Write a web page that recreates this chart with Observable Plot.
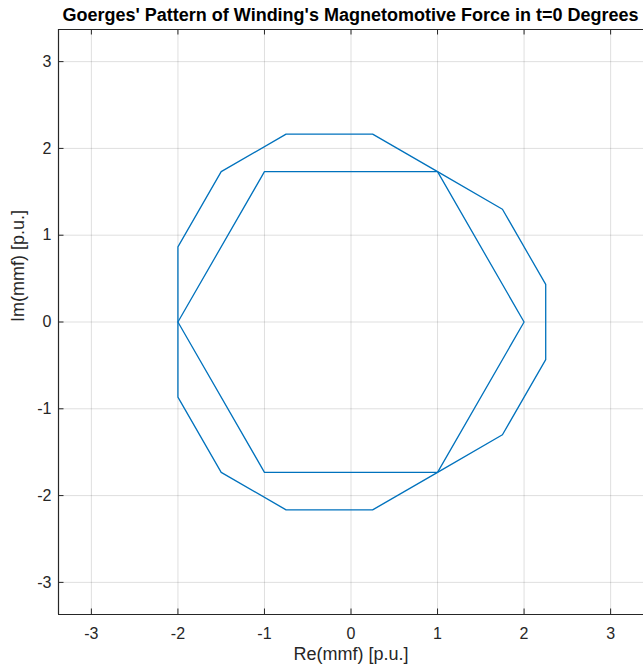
<!DOCTYPE html>
<html>
<head>
<meta charset="utf-8">
<script src="https://cdn.jsdelivr.net/npm/d3@7"></script>
<script src="https://cdn.jsdelivr.net/npm/@observablehq/plot@0.6"></script>
<style>
  html, body { margin: 0; padding: 0; background: #fff; overflow: hidden; width: 643px; height: 671px; }
  #title { position: absolute; left: 58px; top: 0; width: 585px; height: 28px; text-align: center; white-space: nowrap;
           font: bold 18px "Liberation Sans", Arial, sans-serif; color: #000; line-height: 30px; }
  #chart { position: absolute; left: 0; top: 28px; }
</style>
</head>
<body>
<div id="title"></div>
<div id="chart"></div>
<script>
const titleText = "Goerges' Pattern of Winding's Magnetomotive Force in t=0 Degrees";
const xLabel = "Re(mmf) [p.u.]";
const yLabel = "Im(mmf) [p.u.]";
const tickValues = [-3, -2, -1, 0, 1, 2, 3];
const tickLabels = ["-3", "-2", "-1", "0", "1", "2", "3"];

// Inner hexagon (sum of phasors)
const hexRe = [2, 1, -1, -2, -1, 1, 2];
const hexIm = [0, 1.732, 1.732, 0, -1.732, -1.732, 0];
// Outer 12-sided polygon
const outerRe = [2.25, 1.75, 1, 0.25, -0.75, -1.5, -2, -2, -1.5, -0.75, 0.25, 1, 1.75, 2.25, 2.25];
const outerIm = [0.433, 1.299, 1.732, 2.165, 2.165, 1.732, 0.866, -0.866, -1.732, -2.165, -2.165, -1.732, -1.299, -0.433, 0.433];

const xDomain = [-3.38, 3.38];
const yDomain = [-3.37, 3.37];

document.getElementById("title").textContent = titleText;

const hex = hexRe.map((re, i) => ({re, im: hexIm[i], s: "hex"}));
const outer = outerRe.map((re, i) => ({re, im: outerIm[i], s: "outer"}));

const W = 643, H = 643, mL = 58, mR = 0, mT = 1, mB = 57;
const plotH = H - mT - mB;
const plotW = W - mL - mR;
const tickLen = 5.5;
const axisColor = "#262626";
const lineColor = "#0072BD";
const fmt = d => tickLabels[tickValues.indexOf(d)];

const chart = Plot.plot({
  width: W,
  height: H,
  marginLeft: mL,
  marginRight: mR,
  marginTop: mT,
  marginBottom: mB,
  style: {fontFamily: "'Liberation Sans', Arial, sans-serif", fontSize: "15px", color: axisColor, background: "#fff", overflow: "visible"},
  x: {domain: xDomain, ticks: tickValues, axis: null},
  y: {domain: yDomain, ticks: tickValues, axis: null},
  marks: [
    Plot.gridX(tickValues, {stroke: axisColor, strokeOpacity: 0.15, strokeWidth: 1}),
    Plot.gridY(tickValues, {stroke: axisColor, strokeOpacity: 0.15, strokeWidth: 1}),
    Plot.line(outer, {x: "re", y: "im", stroke: lineColor, strokeWidth: 1.3}),
    Plot.line(hex, {x: "re", y: "im", stroke: lineColor, strokeWidth: 1.3}),
    // inward ticks
    Plot.ruleX(tickValues, {x: d => d, insetTop: plotH - tickLen, stroke: axisColor, strokeWidth: 1}),
    Plot.ruleX(tickValues, {x: d => d, insetBottom: plotH - tickLen, stroke: axisColor, strokeWidth: 1}),
    Plot.ruleY(tickValues, {y: d => d, insetRight: plotW - tickLen, stroke: axisColor, strokeWidth: 1}),
    // box (left, bottom, top)
    Plot.ruleX([xDomain[0]], {stroke: axisColor, strokeWidth: 1.2}),
    Plot.ruleY([yDomain[0], yDomain[1]], {stroke: axisColor, strokeWidth: 1.2}),
    // tick labels
    Plot.text(tickValues, {x: d => d, frameAnchor: "bottom", lineAnchor: "top", dy: 13.5, text: fmt, fontSize: 16, fill: axisColor}),
    Plot.text(tickValues, {y: d => d, frameAnchor: "left", textAnchor: "end", dx: -7, text: fmt, fontSize: 16, fill: axisColor}),
    // axis labels
    Plot.text([xLabel], {frameAnchor: "bottom", text: d => d, dy: 45, fontSize: 18, fill: axisColor}),
    Plot.text([yLabel], {frameAnchor: "left", text: d => d, dx: -40, rotate: -90, fontSize: 18, fill: axisColor})
  ]
});
document.getElementById("chart").appendChild(chart);
</script>
</body>
</html>
